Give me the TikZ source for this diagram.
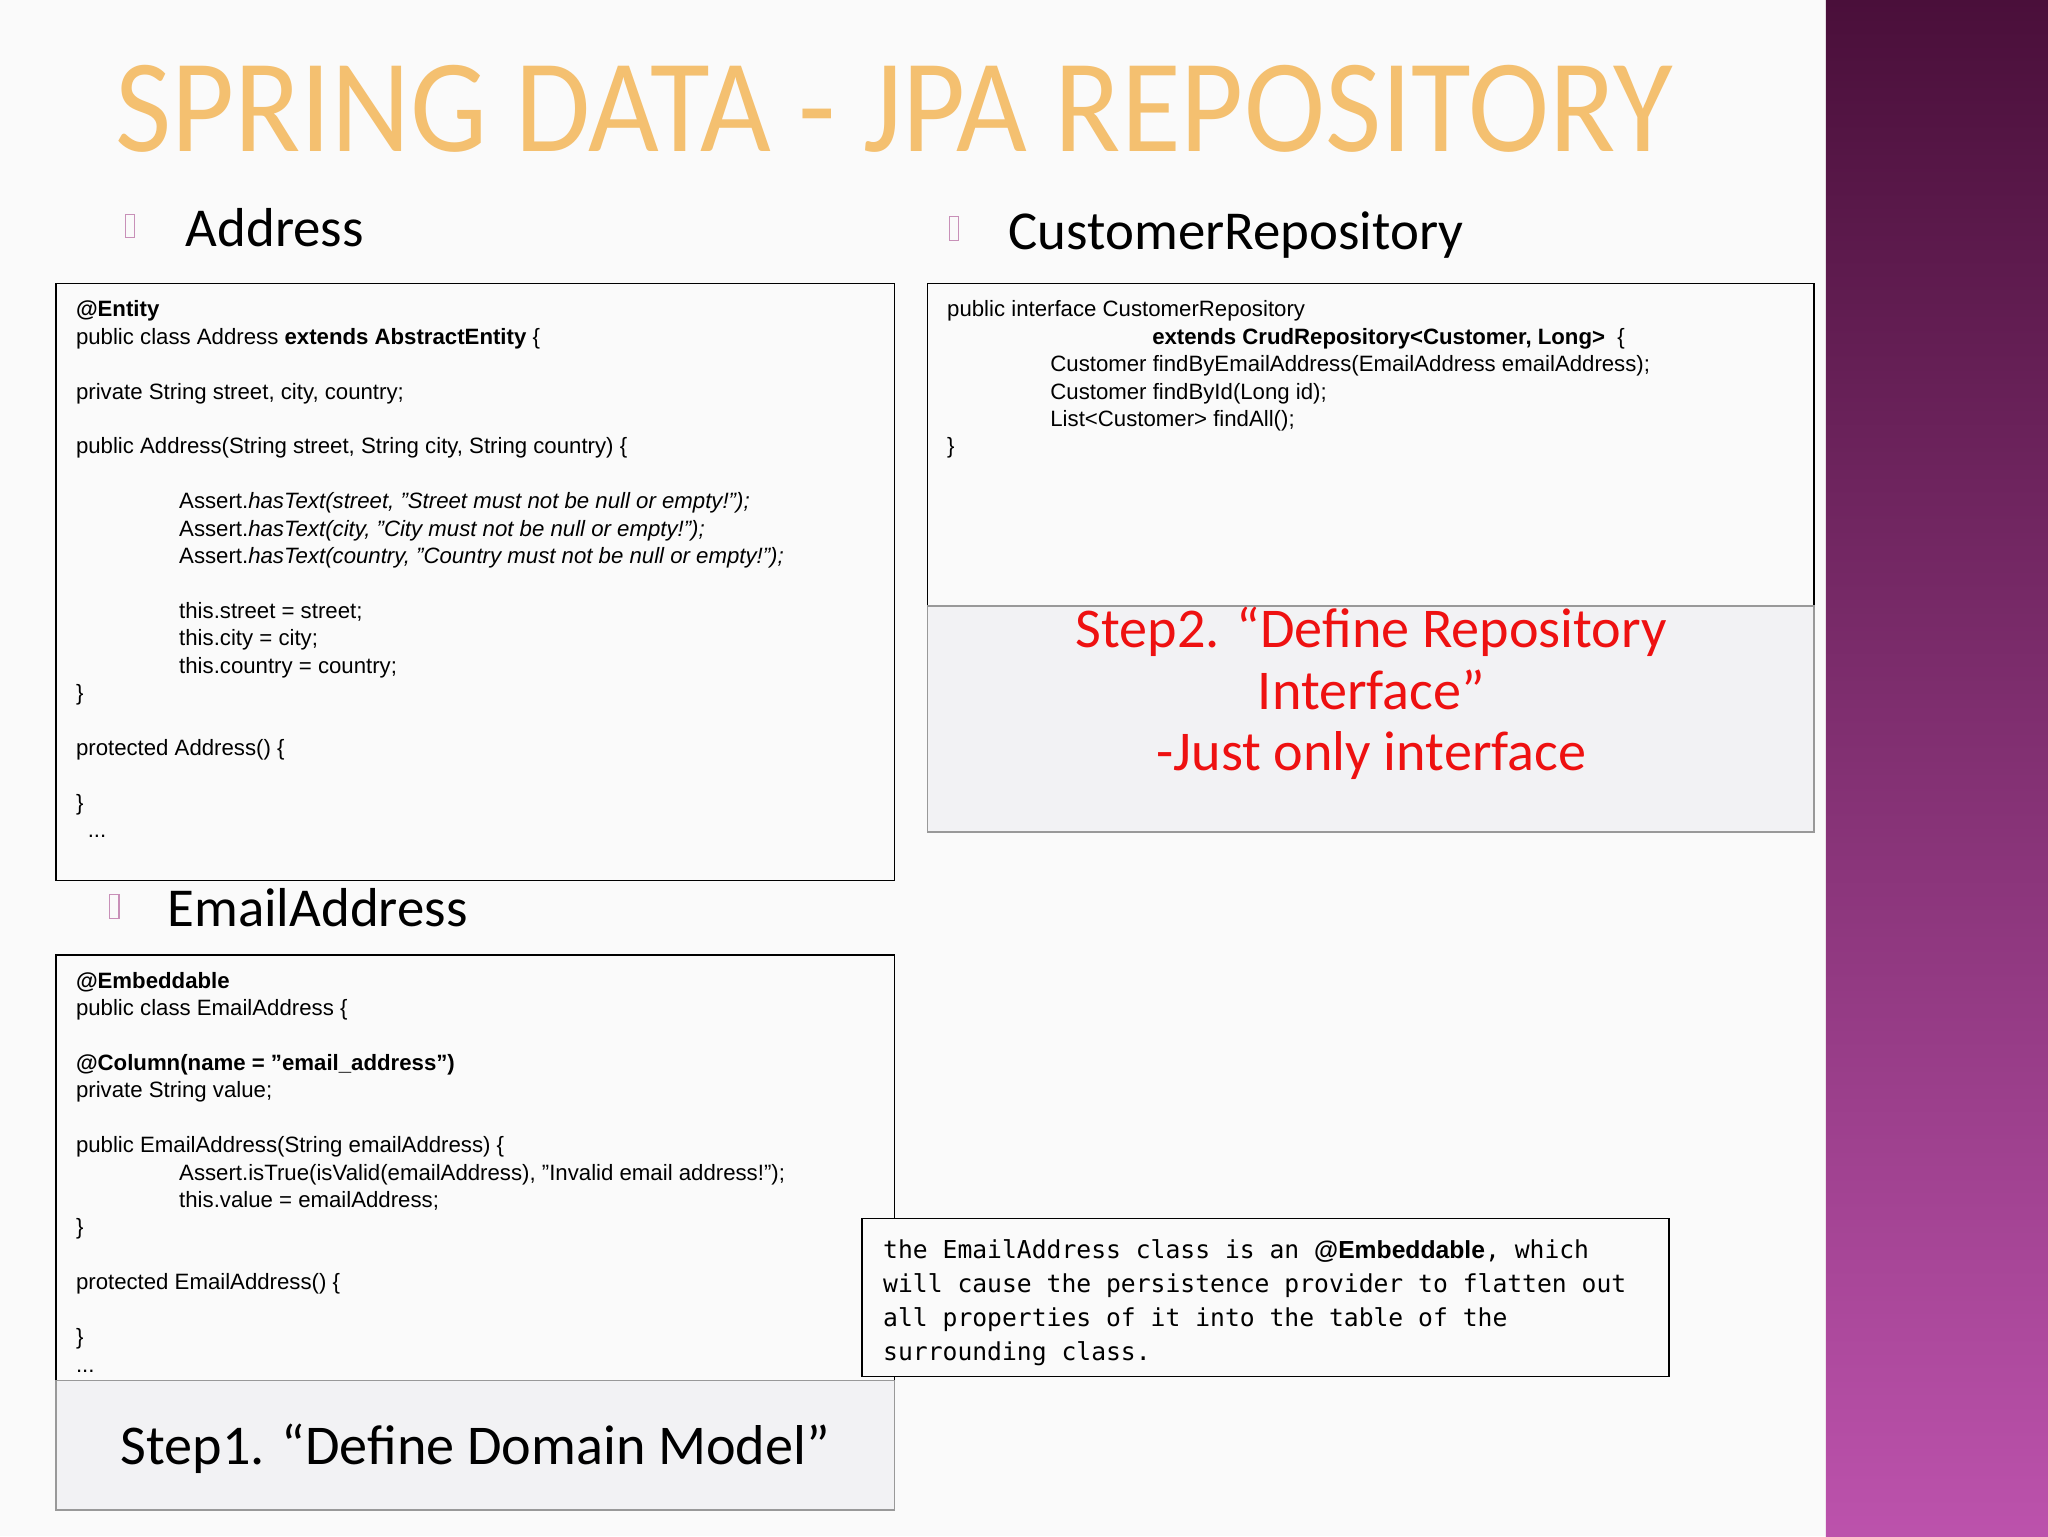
\documentclass[tikz,border=0pt]{standalone}
\usepackage{fontspec}
\setmainfont{Liberation Sans}
\newfontfamily\calfont{Carlito}
\newfontfamily\monofont{DejaVu Sans Mono}
\newcommand{\qq}{\symbol{34}}
\definecolor{bg}{HTML}{FAFAFA}
\definecolor{gbox}{HTML}{F2F2F4}
\definecolor{ptop}{HTML}{4A0F3A}
\definecolor{pbot}{HTML}{BC52AC}
\definecolor{ttl}{HTML}{F4C070}
\definecolor{bul}{HTML}{C890B8}
\definecolor{stepred}{HTML}{EE1111}
\begin{document}
\begin{tikzpicture}[x=1pt,y=-1pt,
  box/.style={draw=black,line width=1.2pt},
  gb/.style={draw=gray!80,line width=1.2pt,fill=gbox},
  code/.style={anchor=north west,inner sep=0pt,align=left,font=\fontsize{17}{21}\selectfont},
  head/.style={anchor=base west,inner sep=0pt,font=\calfont\fontsize{42}{46}\selectfont},
  bullet/.style={draw=bul,line width=1pt}]
\useasboundingbox (0,0) rectangle (1568,1176);
\fill[bg] (0,0) rectangle (1568,1176);
\shade[top color=ptop,bottom color=pbot] (1398,0) rectangle (1568,1176);
\node[anchor=north west,inner sep=0pt,text=ttl] (title) at (88,50)
  {\resizebox{1192pt}{66pt}{\calfont SPRING DATA - JPA REPOSITORY}};
% headings
\draw[bullet] (96,164) rectangle (103,182);
\node[head] (h1) at (142,189) {Address};
\draw[bullet] (727,166) rectangle (734,184);
\node[head] (h3) at (772,191) {CustomerRepository};
\draw[bullet] (84,685) rectangle (91,703);
\node[head] (h2) at (128,709) {EmailAddress};
% box 1
\draw[box] (43,217) rectangle (685,674);
\node[code] (c1) at (58,230) {\textbf{@Entity}\\
public class Address \textbf{extends AbstractEntity} \{\\[21pt]
private String street, city, country;\\[21pt]
public Address(String street, String city, String country) \{\\[21pt]
\hspace*{79pt}Assert.\textit{hasText(street, \qq Street must not be null or empty!\qq);}\\
\hspace*{79pt}Assert.\textit{hasText(city, \qq City must not be null or empty!\qq);}\\
\hspace*{79pt}Assert.\textit{hasText(country, \qq Country must not be null or empty!\qq);}\\[21pt]
\hspace*{79pt}this.street = street;\\
\hspace*{79pt}this.city = city;\\
\hspace*{79pt}this.country = country;\\
\}\\[21pt]
protected Address() \{\\[21pt]
\}\\
\hspace*{9pt}...};
% box 2
\draw[box] (43,731) rectangle (685,1057);
\node[code] (c2) at (58,744) {\textbf{@Embeddable}\\
public class EmailAddress \{\\[21pt]
\textbf{@Column(name = \qq email\_address\qq)}\\
private String value;\\[21pt]
public EmailAddress(String emailAddress) \{\\
\hspace*{79pt}Assert.isTrue(isValid(emailAddress), \qq Invalid email address!\qq);\\
\hspace*{79pt}this.value = emailAddress;\\
\}\\[21pt]
protected EmailAddress() \{\\[21pt]
\}\\
...};
\draw[gb] (43,1057) rectangle (685,1156);
\node[font=\calfont\fontsize{43}{46}\selectfont] (s1) at (364,1109) {Step1. “Define Domain Model”};
% box 3
\draw[box] (710,217) rectangle (1389,464);
\node[code] (c3) at (725,230) {public interface CustomerRepository\\
\hspace*{157pt}\textbf{extends CrudRepository<Customer, Long>} \ \{\\
\hspace*{79pt}Customer findByEmailAddress(EmailAddress emailAddress);\\
\hspace*{79pt}Customer findById(Long id);\\
\hspace*{79pt}List<Customer> findAll();\\
\}};
\draw[gb] (710,464) rectangle (1389,637);
\node[align=center,text=stepred,font=\calfont\fontsize{43}{47}\selectfont] (s2) at (1050,531)
  {Step2. “Define Repository\\Interface”\\-Just only interface};
% note
\draw[box,fill=bg] (660,933) rectangle (1278,1054);
\node[anchor=north west,inner sep=0pt,align=left,font=\monofont\fontsize{18.9}{26}\selectfont] (n) at (676,949)
{the EmailAddress class is an {\rmfamily\bfseries @Embeddable}, which\\
will cause the persistence provider to flatten out\\
all properties of it into the table of the\\
surrounding class.};
\end{tikzpicture}
\end{document}
